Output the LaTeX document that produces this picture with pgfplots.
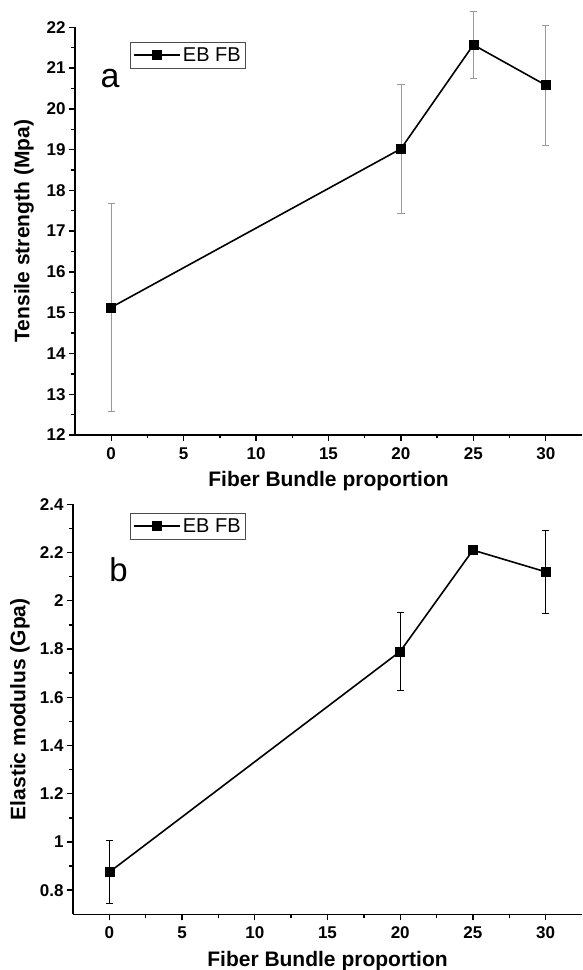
\documentclass[border=0pt]{standalone}
\usepackage{fontspec}
\setmainfont{Liberation Sans}
\usepackage{pgfplots}
\pgfplotsset{compat=1.18}

\pgfplotsset{
  panel/.style={
    scale only axis,
    axis lines=left,
    axis line style={-, line width=1.5pt},
    tick align=outside,
    major tick length=6pt,
    minor tick length=3.5pt,
    every tick/.style={black, line width=1.4pt},
    minor tick num=1,
    xmin=-2.5, xmax=32.5,
    xtick={0,5,10,15,20,25,30},
    clip=false,
    /pgf/number format/assume math mode=true,
    ticklabel style={font=\fontsize{17}{19}\selectfont\bfseries},
    xticklabel style={yshift=-3pt},
    label style={font=\fontsize{21}{24}\selectfont\bfseries},
    xlabel={Fiber Bundle proportion},
    xlabel style={at={(axis description cs:0.5,0)}, anchor=base, yshift=-52pt},
    legend style={draw=black!70, line width=0.6pt, inner xsep=3pt, inner ysep=3.5pt,
      font=\fontsize{20}{22}\selectfont, cells={anchor=west}},
    legend image code/.code={\draw[mark repeat=2,mark phase=2,#1] plot coordinates {(0pt,0pt) (23pt,0pt) (46pt,0pt)};},
  },
  series/.style={black, line width=1.6pt, mark=square*, mark size=4.5pt,
    mark options={solid, line width=0.5pt}},
}

\pgfplotstableread{
x   y      e
0   15.13  2.55
20  19.02  1.59
25  21.57  0.82
30  20.58  1.47
}\tensile

\pgfplotstableread{
x   y      e
0   0.875  0.130
20  1.790  0.160
25  2.210  0.010
30  2.120  0.173
}\modulus

\begin{document}
\begin{tikzpicture}
\path[use as bounding box] (0,0) rectangle (582pt,970pt);

% (a) tensile strength
\begin{axis}[panel,
    at={(75pt,535pt)}, anchor=south west,
    width=507pt, height=407.7pt,
    ymin=12, ymax=22, ytick={12,13,...,22},
    ylabel={Tensile strength (Mpa)},
    ylabel style={at={(axis description cs:-0.1006,0.5)}, anchor=center},
    legend style={at={(axis description cs:0.1085,0.965)}, anchor=north west},
]
\addplot[series, error bars/.cd, y dir=both, y explicit,
    error bar style={black!40, line width=0.8pt},
    error mark options={rotate=90, mark size=3.6pt, black!40, line width=0.8pt}]
  table[x=x, y=y, y error=e] {\tensile};
\legend{EB FB}
\node[font=\fontsize{34}{36}\selectfont, anchor=base] at (axis description cs:0.0690,0.8513) {a};
\end{axis}

% (b) elastic modulus
\begin{axis}[panel,
    at={(73pt,55.7pt)}, anchor=south west,
    width=509pt, height=410pt,
    ymin=0.7, ymax=2.4, ytick={0.8,1,...,2.4},
    yticklabel style={/pgf/number format/.cd, fixed, precision=1},
    ylabel={Elastic modulus (Gpa)},
    ylabel style={at={(axis description cs:-0.104,0.5)}, anchor=center},
    legend style={at={(axis description cs:0.112,0.9795)}, anchor=north west},
]
\addplot[series, error bars/.cd, y dir=both, y explicit,
    error bar style={black, line width=0.8pt},
    error mark options={rotate=90, mark size=3.6pt, black, line width=0.8pt}]
  table[x=x, y=y, y error=e] {\modulus};
\legend{EB FB}
\node[font=\fontsize{33}{35}\selectfont, anchor=base] at (axis description cs:0.0894,0.8124) {b};
\end{axis}
\end{tikzpicture}
\end{document}
